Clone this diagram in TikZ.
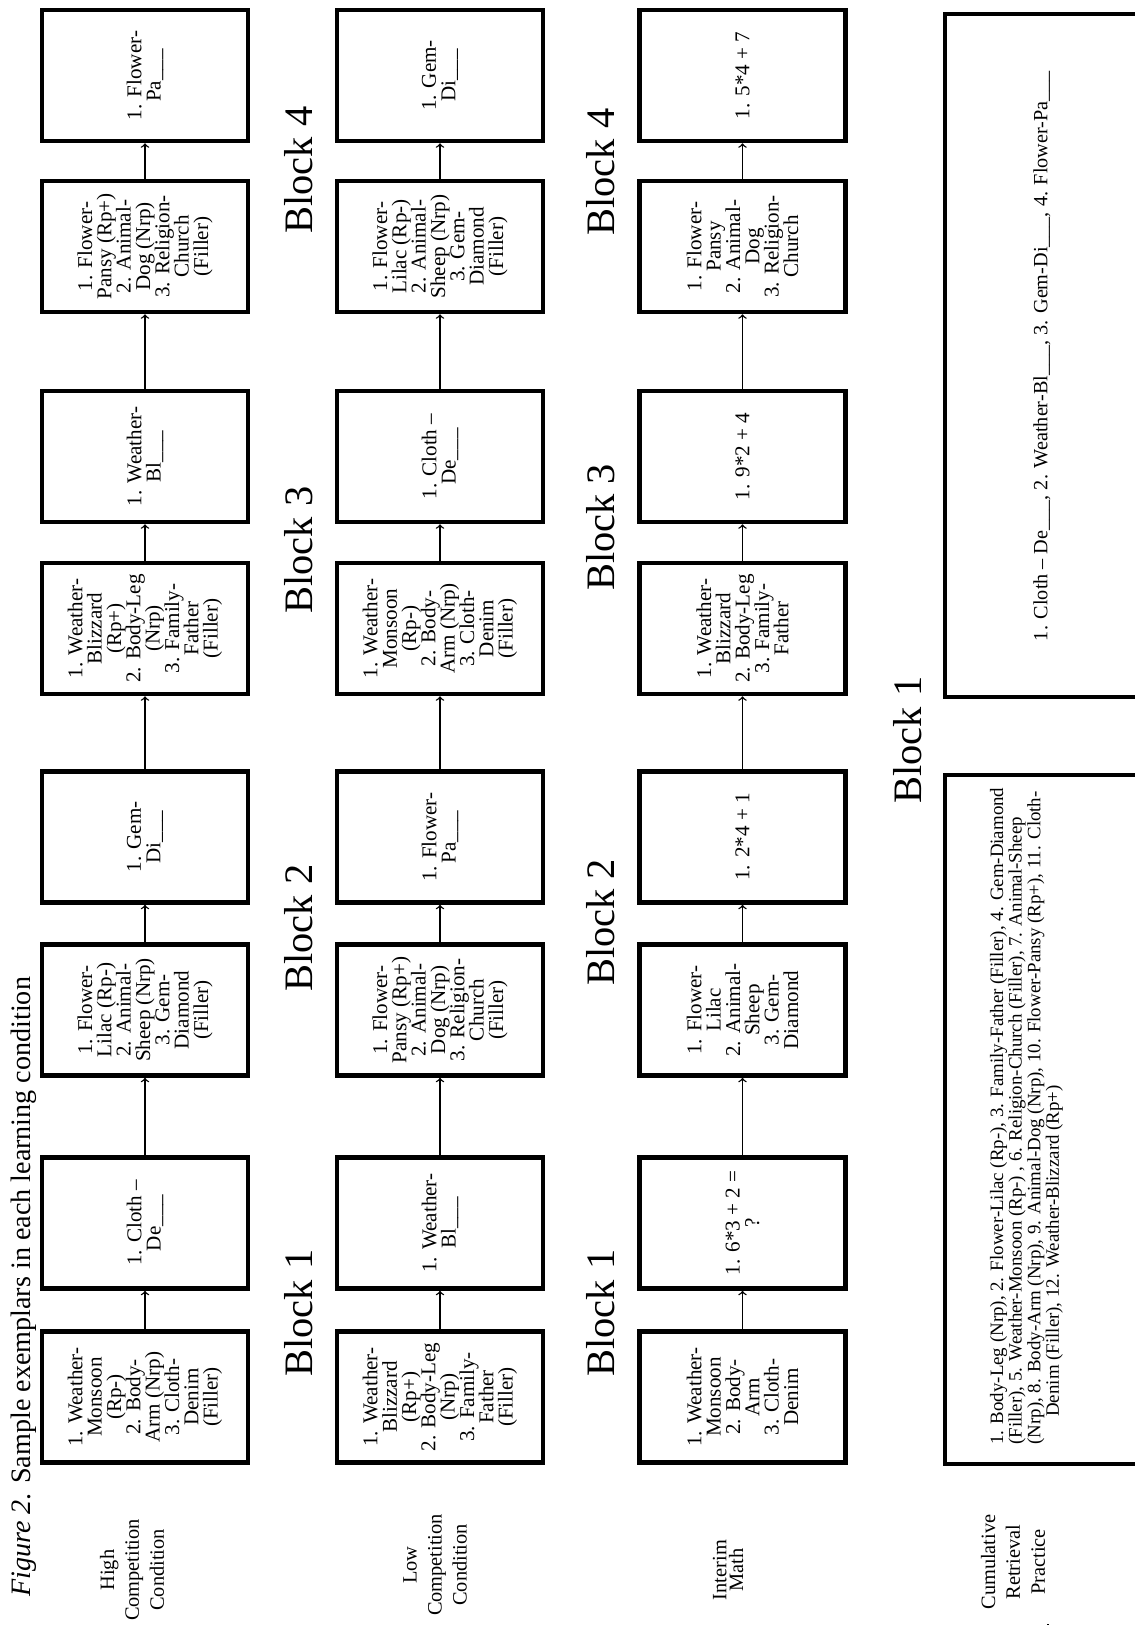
\documentclass[tikz,border=0pt]{standalone}
\usepackage{fontspec}
\setmainfont{Liberation Serif}

\tikzset{
  caixa/.style={draw, line width=2.6pt, minimum width=2.62cm, minimum height=4.12cm, inner sep=1pt, align=center, font=\fontsize{12}{11}\selectfont},
  grande/.style={draw, line width=2.6pt, minimum height=4.12cm, inner sep=0pt},
  seta/.style={->, line width=0.8pt},
  bloco/.style={inner sep=0pt, font=\fontsize{23}{27}\selectfont},
  rotulo/.style={inner sep=0pt, align=center, font=\fontsize{11.6}{14.2}\selectfont}
}

\begin{document}
\begin{tikzpicture}
\useasboundingbox (0,0) rectangle (22.7,32.5);
\begin{scope}[shift={(22.7,0)}, rotate=90, transform shape]
\clip (0,0) rectangle (32.5,22.7);
% Titulo
\node[anchor=west, inner sep=0pt, font=\fontsize{16}{19}\selectfont] (titulo) at (0.56,22.23) {\textit{Figure 2}. Sample exemplars in each learning condition};
% Rotulos das linhas
\node[rotulo] (alta) at (1.1,20.06) {High\\Competition\\Condition};
\node[rotulo] (baixa) at (1.2,14.0) {Low\\Competition\\Condition};
\node[rotulo, font=\fontsize{11.6}{9.5}\selectfont] (mat) at (1.1,8.14) {Interim\\Math};
\node[rotulo] (cumul) at (1.26,2.44) {Cumulative\\Retrieval\\Practice};
% High competition
\node[caixa] (hc1) at (4.56,19.8) {1. Weather-\\Monsoon\\(Rp-)\\2. Body-\\Arm (Nrp)\\3. Cloth-\\Denim\\(Filler)};
\node[caixa] (hc2) at (8.04,19.8) {1. Cloth –\\De\_\_\_};
\node[caixa] (hc3) at (12.3,19.8) {1. Flower-\\Lilac (Rp-)\\2. Animal-\\Sheep (Nrp)\\3. Gem-\\Diamond\\(Filler)};
\node[caixa] (hc4) at (15.76,19.8) {1. Gem-\\Di\_\_\_};
\node[caixa] (hc5) at (19.93,19.8) {1. Weather-\\Blizzard\\(Rp+)\\2. Body-Leg\\(Nrp)\\3. Family-\\Father\\(Filler)};
\node[caixa] (hc6) at (23.37,19.8) {1. Weather-\\Bl\_\_\_};
\node[caixa] (hc7) at (27.57,19.8) {1. Flower-\\Pansy (Rp+)\\2. Animal-\\Dog (Nrp)\\3. Religion-\\Church\\(Filler)};
\node[caixa] (hc8) at (30.99,19.8) {1. Flower-\\Pa\_\_\_};
\draw[seta] (hc1) -- (hc2);
\draw[seta] (hc2) -- (hc3);
\draw[seta] (hc3) -- (hc4);
\draw[seta] (hc4) -- (hc5);
\draw[seta] (hc5) -- (hc6);
\draw[seta] (hc6) -- (hc7);
\draw[seta] (hc7) -- (hc8);
% Blocos
\node[bloco] (b11) at (6.24,16.72) {Block 1};
\node[bloco] (b12) at (13.94,16.72) {Block 2};
\node[bloco] (b13) at (21.5,16.72) {Block 3};
\node[bloco] (b14) at (29.1,16.72) {Block 4};
% Low competition
\node[caixa] (lc1) at (4.56,13.9) {1. Weather-\\Blizzard\\(Rp+)\\2. Body-Leg\\(Nrp)\\3. Family-\\Father\\(Filler)};
\node[caixa] (lc2) at (8.04,13.9) {1. Weather-\\Bl\_\_\_};
\node[caixa] (lc3) at (12.3,13.9) {1. Flower-\\Pansy (Rp+)\\2. Animal-\\Dog (Nrp)\\3. Religion-\\Church\\(Filler)};
\node[caixa] (lc4) at (15.76,13.9) {1. Flower-\\Pa\_\_\_};
\node[caixa] (lc5) at (19.93,13.9) {1. Weather-\\Monsoon\\(Rp-)\\2. Body-\\Arm (Nrp)\\3. Cloth-\\Denim\\(Filler)};
\node[caixa] (lc6) at (23.37,13.9) {1. Cloth –\\De\_\_\_};
\node[caixa] (lc7) at (27.57,13.9) {1. Flower-\\Lilac (Rp-)\\2. Animal-\\Sheep (Nrp)\\3. Gem-\\Diamond\\(Filler)};
\node[caixa] (lc8) at (30.99,13.9) {1. Gem-\\Di\_\_\_};
\draw[seta] (lc1) -- (lc2);
\draw[seta] (lc2) -- (lc3);
\draw[seta] (lc3) -- (lc4);
\draw[seta] (lc4) -- (lc5);
\draw[seta] (lc5) -- (lc6);
\draw[seta] (lc6) -- (lc7);
\draw[seta] (lc7) -- (lc8);
% Blocos
\node[bloco] (b21) at (6.24,10.68) {Block 1};
\node[bloco] (b22) at (14.05,10.68) {Block 2};
\node[bloco] (b23) at (21.95,10.68) {Block 3};
\node[bloco] (b24) at (29.06,10.68) {Block 4};
% Interim math
\node[caixa] (im1) at (4.56,7.85) {1. Weather-\\Monsoon\\2. Body-\\Arm\\3. Cloth-\\Denim};
\node[caixa] (im2) at (8.04,7.85) {1. 6*3 + 2 =\\?};
\node[caixa] (im3) at (12.3,7.85) {1. Flower-\\Lilac\\2. Animal-\\Sheep\\3. Gem-\\Diamond};
\node[caixa] (im4) at (15.76,7.85) {1. 2*4 + 1};
\node[caixa] (im5) at (19.93,7.85) {1. Weather-\\Blizzard\\2. Body-Leg\\3. Family-\\Father};
\node[caixa] (im6) at (23.37,7.85) {1. 9*2 + 4};
\node[caixa] (im7) at (27.57,7.85) {1. Flower-\\Pansy\\2. Animal-\\Dog\\3. Religion-\\Church};
\node[caixa] (im8) at (30.99,7.85) {1. 5*4 + 7};
\draw[seta] (im1) -- (im2);
\draw[seta] (im2) -- (im3);
\draw[seta] (im3) -- (im4);
\draw[seta] (im4) -- (im5);
\draw[seta] (im5) -- (im6);
\draw[seta] (im6) -- (im7);
\draw[seta] (im7) -- (im8);
\node[bloco] (b31) at (17.7,4.54) {Block 1};
% Cumulative retrieval practice
\node[grande, minimum width=13.78cm] (cr1) at (10.11,1.74) {};
\node[grande, minimum width=13.66cm] (cr2) at (25.39,1.74) {};
\node[anchor=west, inner sep=0pt, align=left, font=\fontsize{10.75}{10.6}\selectfont] (lista) at (3.6,2.17) {1. Body-Leg (Nrp), 2. Flower-Lilac (Rp-), 3. Family-Father (Filler), 4. Gem-Diamond\\(Filler), 5. Weather-Monsoon (Rp-) , 6. Religion-Church (Filler), 7. Animal-Sheep\\(Nrp), 8. Body-Arm (Nrp), 9. Animal-Dog (Nrp), 10. Flower-Pansy (Rp+), 11. Cloth-\\\hspace*{0.56cm}Denim (Filler), 12. Weather-Blizzard (Rp+)};
\node[inner sep=0pt, font=\fontsize{11.5}{13}\selectfont] (teste) at (25.38,1.86) {1. Cloth – De\_\_\_, 2. Weather-Bl\_\_\_, 3. Gem-Di\_\_\_, 4. Flower-Pa\_\_\_};
\coordinate (r4) at (0,2.0);
\draw[seta] (r4 |- cr1.east) -- (r4 |- cr2.west);
\end{scope}
\end{tikzpicture}
\end{document}
